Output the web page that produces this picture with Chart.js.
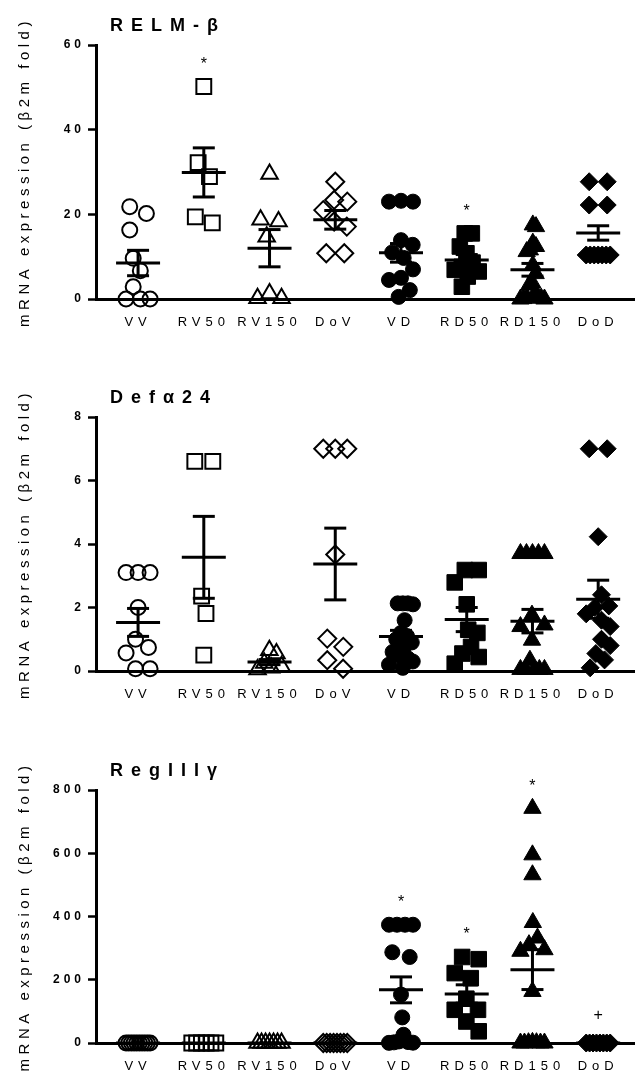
<!DOCTYPE html>
<html>
<head>
<meta charset="utf-8">
<script src="https://cdn.jsdelivr.net/npm/chart.js@4"></script>
<style>
  body { margin: 0; background: #fff; }
  canvas { position: absolute; left: 0; }
</style>
</head>
<body>
<canvas id="relm" width="635" height="358" style="top:0px"></canvas>
<canvas id="defa" width="635" height="359" style="top:358px"></canvas>
<canvas id="reg" width="635" height="358" style="top:717px"></canvas>
<script>
// categories (x axis)
const categories = ['VV', 'RV50', 'RV150', 'DoV', 'VD', 'RD50', 'RD150', 'DoD'];

// RELM-β
const relmTicks = [0, 20, 40, 60];
const relmGroups = [
  [21.8, 20.2, 16.3, 9.6, 6.7, 2.9, 0, 0, 0],
  [50.2, 32.2, 28.9, 19.4, 18.0],
  [29.5, 18.7, 18.3, 14.7, 1.3, 0.2, 0.2],
  [27.7, 23.4, 23.0, 21.0, 18.3, 17.1, 10.8, 10.8],
  [23.2, 23.0, 23.0, 13.9, 12.8, 11.0, 9.7, 7.0, 5.0, 4.5, 2.1, 0.5],
  [15.5, 15.5, 12.4, 10.8, 8.6, 7.6, 6.9, 6.5, 5.3, 2.9],
  [17.5, 17.1, 13.2, 12.4, 11.6, 11.2, 8.0, 6.0, 3.8, 3.3, 1.3, 0.5, 0.3, 0.2, 0.1, 0, 0],
  [27.7, 27.7, 22.2, 22.2, 10.4, 10.4, 10.4, 10.4, 10.4, 10.4, 10.4]
];
const relmMean = [8.5, 29.9, 12.0, 18.7, 10.9, 9.2, 6.9, 15.6];
const relmSem = [3.0, 5.8, 4.4, 2.2, 2.2, 1.3, 1.5, 1.7];
const relmMarks = ['', '*', '', '', '', '*', '', ''];

// Defα24
const defaTicks = [0, 2, 4, 6, 8];
const defaGroups = [
  [3.1, 3.1, 3.1, 2.0, 1.0, 0.74, 0.57, 0.07, 0.07],
  [6.6, 6.6, 2.36, 1.81, 0.5],
  [0.65, 0.55, 0.25, 0.15, 0.1, 0.05],
  [7.0, 7.0, 7.0, 3.67, 1.02, 0.76, 0.34, 0.07],
  [2.13, 2.13, 2.13, 2.1, 1.6, 1.2, 1.1, 1.0, 0.9, 0.7, 0.6, 0.5, 0.4, 0.3, 0.2, 0.1],
  [3.18, 3.18, 2.79, 2.1, 1.3, 1.2, 0.76, 0.55, 0.44, 0.23],
  [3.7, 3.7, 3.7, 3.7, 3.7, 1.76, 1.45, 1.4, 0.97, 0.34, 0.05, 0.05, 0.05, 0.05, 0.05],
  [7.0, 7.0, 4.23, 2.4, 2.05, 2.0, 1.8, 1.6, 1.4, 1.0, 0.8, 0.55, 0.35, 0.1]
];
const defaMean = [1.53, 3.58, 0.28, 3.37, 1.09, 1.62, 1.57, 2.26];
const defaSem = [0.44, 1.29, 0.08, 1.13, 0.19, 0.38, 0.37, 0.6];
const defaMarks = ['', '', '', '', '', '', '', ''];

// RegIIIγ
const regTicks = [0, 200, 400, 600, 800];
const regGroups = [
  [0, 0, 0, 0, 0, 0, 0, 0, 0, 0],
  [0, 0, 0, 0, 0, 0],
  [0, 0, 0, 0, 0, 0, 0],
  [0, 0, 0, 0, 0, 0, 0, 0],
  [374, 374, 374, 374, 287, 272, 153, 81, 26, 5, 3, 2, 1, 0.5],
  [272, 265, 221, 205, 140, 105, 105, 68, 37],
  [742, 595, 532, 381, 332, 311, 295, 290, 163, 2, 1, 1, 0, 0, 0, 0],
  [0, 0, 0, 0, 0, 0, 0, 0]
];
const regMean = [0, 0, 0, 0, 168, 155, 232, 0];
const regSem = [0, 0, 0, 0, 41, 29, 63, 0];
const regMarks = ['', '', '', '', '*', '*', '*', '+'];

const FONT = 'Arial, "Liberation Sans", sans-serif';
const SPACING = { 12: 4, 13: 5, 15: 4.5, 18: 8 };
const X_MIN = -0.64, X_MAX = 7.56;
const STYLES = [
  { s: 'circle', r: 7.5, fill: false },
  { s: 'rect', r: 10.5, fill: false },
  { s: 'triangle', r: 9.5, fill: false },
  { s: 'rectRot', r: 9, fill: false },
  { s: 'circle', r: 7.5, fill: true },
  { s: 'rect', r: 11, fill: true },
  { s: 'triangle', r: 10, fill: true },
  { s: 'rectRot', r: 9, fill: true }
];

// letter-spaced text, like the original figure
function spaceLetters(ctx) {
  const desc = Object.getOwnPropertyDescriptor(CanvasRenderingContext2D.prototype, 'font');
  Object.defineProperty(ctx, 'font', {
    get() { return desc.get.call(this); },
    set(v) {
      desc.set.call(this, v);
      const m = /(\d+(?:\.\d+)?)px/.exec(v);
      this.letterSpacing = ((m && SPACING[Math.round(+m[1])]) || 0) + 'px';
    }
  });
}

// simple beeswarm offsets (pixels) for one column
function swarm(values, pxPerUnit) {
  const D = 18, HALF = 12;
  const off = values.map(() => 0);
  const order = values.map((v, i) => i).sort((a, b) => values[b] - values[a]);
  let comp = [];
  const flush = () => {
    const placed = [];
    comp.forEach(i => {
      const y = values[i] * pxPerUnit;
      const cands = [0];
      placed.forEach(p => {
        const dy = Math.abs(p.y - y);
        if (dy < D) {
          const w = Math.sqrt(D * D - dy * dy);
          cands.push(p.x + w, p.x - w);
        }
      });
      cands.sort((a, b) => Math.abs(a) - Math.abs(b) || b - a);
      const x = cands.find(c => placed.every(p => (p.x - c) ** 2 + (p.y - y) ** 2 >= D * D - 0.01));
      placed.push({ x: x, y: y });
      off[i] = x;
    });
    const xs = placed.map(p => p.x);
    const lo = Math.min(...xs), hi = Math.max(...xs);
    const mid = (lo + hi) / 2, span = (hi - lo) / 2;
    const k = span > HALF ? HALF / span : 1;
    comp.forEach(i => { off[i] = (off[i] - mid) * k; });
    comp = [];
  };
  order.forEach(i => {
    if (comp.length && (values[comp[comp.length - 1]] - values[i]) * pxPerUnit >= D) flush();
    comp.push(i);
  });
  flush();
  return off;
}

function makePanel(id, cfg) {
  const canvas = document.getElementById(id);
  const ctx = canvas.getContext('2d');
  const yMax = cfg.ticks[cfg.ticks.length - 1];
  const pxY = cfg.areaH / yMax;
  const pxX = (canvas.width - 96) / (X_MAX - X_MIN);

  const datasets = cfg.groups.map((vals, g) => {
    const off = swarm(vals, pxY);
    const st = STYLES[g];
    return {
      type: 'scatter',
      data: vals.map((v, j) => ({ x: g + off[j] / pxX, y: v })),
      pointStyle: st.s,
      pointRadius: st.r,
      pointBorderWidth: st.fill ? 1 : 2,
      pointBorderColor: '#000',
      pointBackgroundColor: st.fill ? '#000' : 'rgba(0,0,0,0)',
      clip: false,
      order: 3
    };
  });

  const whisk = [];
  cfg.mean.forEach((m, g) => {
    whisk.push({ x: g, y: m - cfg.sem[g] }, { x: g, y: m + cfg.sem[g] }, { x: g, y: null });
  });
  datasets.push({
    type: 'line', data: whisk, borderColor: '#000', borderWidth: 3,
    pointRadius: 0, spanGaps: false, clip: false, order: 1
  });
  datasets.push({
    type: 'scatter', data: cfg.mean.map((m, g) => ({ x: g, y: m })),
    pointStyle: 'line', pointRadius: 22, pointBorderWidth: 3, pointBorderColor: '#000',
    clip: false, order: 1
  });
  const caps = [];
  cfg.mean.forEach((m, g) => {
    if (cfg.sem[g] > 0) caps.push({ x: g, y: m - cfg.sem[g] }, { x: g, y: m + cfg.sem[g] });
  });
  datasets.push({
    type: 'scatter', data: caps,
    pointStyle: 'line', pointRadius: 11, pointBorderWidth: 3, pointBorderColor: '#000',
    clip: false, order: 1
  });

  const extras = {
    id: 'extras',
    beforeInit(chart) { spaceLetters(chart.ctx); },
    afterDraw(chart) {
      const c = chart.ctx, area = chart.chartArea;
      const xs = chart.scales.x, ys = chart.scales.y;
      c.save();
      c.fillStyle = '#000';
      c.font = 'bold 18px ' + FONT;
      c.textAlign = 'left';
      c.textBaseline = 'alphabetic';
      c.fillText(cfg.title, area.left + 14, area.top - 14);
      c.font = '16px ' + FONT;
      c.textAlign = 'center';
      c.textBaseline = 'middle';
      cfg.marks.forEach((mk, g) => {
        if (!mk) return;
        const top = Math.max(...cfg.groups[g]);
        const dy = mk === '*' ? 22 : 27;
        c.fillText(mk, xs.getPixelForValue(g), ys.getPixelForValue(top) - dy);
      });
      c.restore();
    }
  };

  new Chart(ctx, {
    data: { datasets: datasets },
    plugins: [extras],
    options: {
      responsive: false,
      animation: false,
      events: [],
      layout: { autoPadding: false, padding: { top: cfg.padTop, left: 0, right: 0, bottom: 0 } },
      plugins: { legend: { display: false }, tooltip: { enabled: false } },
      scales: {
        x: {
          type: 'linear', min: X_MIN, max: X_MAX,
          afterBuildTicks: s => { s.ticks = categories.map((c, i) => ({ value: i })); },
          afterFit: s => {
            s.height = canvas.height - cfg.padTop - cfg.areaH;
            s.paddingLeft = 0;
            s.paddingRight = 0;
          },
          ticks: {
            callback: v => categories[v], autoSkip: false, maxRotation: 0,
            font: { size: 13, family: FONT }, color: '#000', padding: 16
          },
          grid: { display: false, drawTicks: false },
          border: { color: '#000', width: 3 }
        },
        y: {
          min: 0, max: yMax,
          afterBuildTicks: s => { s.ticks = cfg.ticks.map(v => ({ value: v })); },
          afterFit: s => { s.width = 96; },
          ticks: { font: { size: 12, weight: 'bold', family: FONT }, color: '#000', padding: 3 },
          grid: { drawOnChartArea: false, tickLength: 8, tickWidth: 2.5, tickColor: '#000' },
          border: { color: '#000', width: 3 },
          title: {
            display: true, text: 'mRNA expression (β2m fold)',
            font: { size: 15, family: FONT }, color: '#000', padding: { top: 16, bottom: 0 }
          }
        }
      }
    }
  });
}

makePanel('relm', { title: 'RELM-β', ticks: relmTicks, groups: relmGroups, mean: relmMean, sem: relmSem, marks: relmMarks, padTop: 45, areaH: 254 });
makePanel('defa', { title: 'Defα24', ticks: defaTicks, groups: defaGroups, mean: defaMean, sem: defaSem, marks: defaMarks, padTop: 59, areaH: 254 });
makePanel('reg', { title: 'RegIIIγ', ticks: regTicks, groups: regGroups, mean: regMean, sem: regSem, marks: regMarks, padTop: 73, areaH: 253 });
</script>
</body>
</html>
